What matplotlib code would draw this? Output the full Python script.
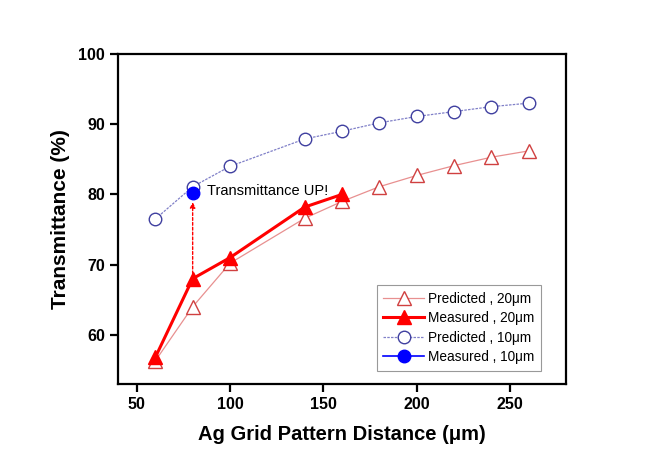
import matplotlib.pyplot as plt

plt.rcParams['font.family'] = ['Liberation Sans', 'DejaVu Sans']

# 数据
x_pred = [60, 80, 100, 140, 160, 180, 200, 220, 240, 260]
pred_20 = [56.3, 64.0, 70.2, 76.6, 79.0, 81.1, 82.7, 84.1, 85.3, 86.2]
pred_10 = [76.5, 81.1, 84.0, 87.9, 89.0, 90.2, 91.1, 91.8, 92.5, 93.0]
x_meas_20 = [60, 80, 100, 140, 160]
meas_20 = [56.8, 68.0, 71.0, 78.2, 80.0]
x_meas_10 = [80]
meas_10 = [80.2]

fig = plt.figure(figsize=(6.57, 4.62), dpi=100)
ax = fig.add_axes([0.1796, 0.1688, 0.6819, 0.7143])

ax.plot(x_pred, pred_20, color='#e89090', lw=0.9, marker='^', ms=9.5,
        mfc='white', mec='#d04040', mew=1.0, label='Predicted , 20\u03bcm')
ax.plot(x_meas_20, meas_20, color='#ff0000', lw=2.2, marker='^', ms=9.5,
        mfc='#ff0000', mec='#ff0000', label='Measured , 20\u03bcm')
ax.plot(x_pred, pred_10, color='#8080c8', lw=0.9, ls=(0, (2, 1)), marker='o', ms=9,
        mfc='white', mec='#4040a0', mew=1.0, label='Predicted , 10\u03bcm')
ax.plot(x_meas_10, meas_10, color='#0000ff', lw=1.2, marker='o', ms=9,
        mfc='#0000ff', mec='#0000ff', label='Measured , 10\u03bcm')

# 箭头
ax.annotate('', xy=(80, 78.9), xytext=(80, 68.0),
            arrowprops=dict(arrowstyle='-|>', color='#ff0000', lw=1.0, ls=(0, (2, 1.5)),
                            mutation_scale=8, shrinkA=0, shrinkB=0))
ax.text(87.5, 80.5, 'Transmittance UP!', fontsize=10.5, va='center', ha='left')

ax.set_xlim(40, 280)
ax.set_ylim(53, 100)
ax.set_xticks([50, 100, 150, 200, 250])
ax.set_yticks([60, 70, 80, 90, 100])
for s in ax.spines.values():
    s.set_linewidth(1.6)
ax.tick_params(direction='out', length=6, width=1.6, labelsize=11.5)
for lb in ax.get_xticklabels() + ax.get_yticklabels():
    lb.set_fontweight('bold')

ax.set_xlabel('Ag Grid Pattern Distance (\u03bcm)', fontsize=14.5, fontweight='bold', labelpad=9)
ax.set_ylabel('Transmittance (%)', fontsize=15, fontweight='bold', labelpad=6)

leg = ax.legend(loc='lower right', bbox_to_anchor=(0.945, 0.04), borderaxespad=0, fontsize=9.8,
                frameon=True, fancybox=False, edgecolor='#808080',
                handlelength=3.0, handletextpad=0.3, labelspacing=0.4, borderpad=0.5)
leg.get_frame().set_linewidth(0.8)

fig.savefig('out.png', dpi=100)
